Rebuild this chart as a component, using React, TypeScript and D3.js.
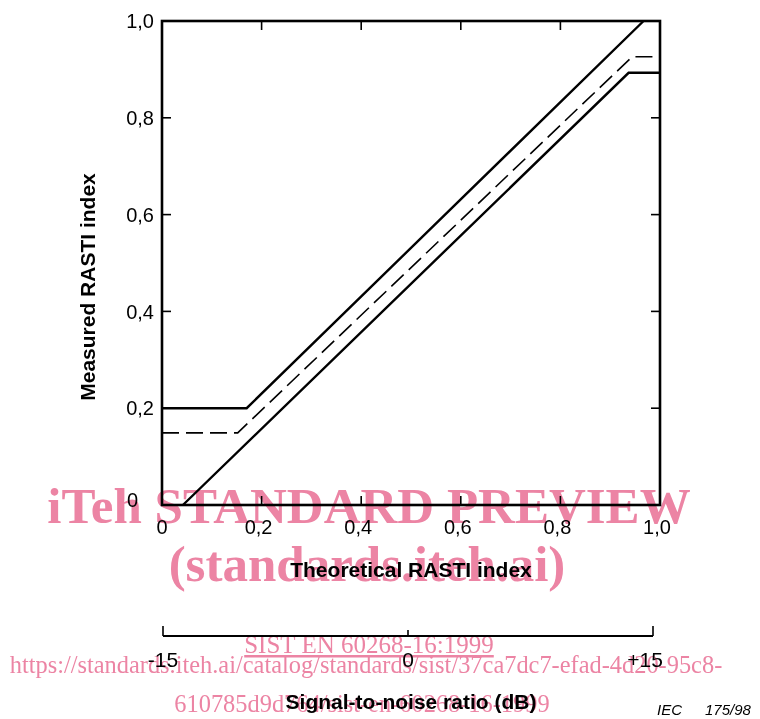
import React from "react";
import * as d3 from "d3";

const xTicks = [0, 0.2, 0.4, 0.6, 0.8, 1.0];
const yTicks = [0, 0.2, 0.4, 0.6, 0.8, 1.0];
const upperLine = [
  { x: 0, y: 0.2 },
  { x: 0.17, y: 0.2 },
  { x: 0.967, y: 1.0 },
];
const dashedLine = [
  { x: 0, y: 0.149 },
  { x: 0.152, y: 0.149 },
  { x: 0.944, y: 0.926 },
  { x: 1.0, y: 0.926 },
];
const lowerLine = [
  { x: 0.042, y: 0 },
  { x: 0.937, y: 0.893 },
  { x: 1.0, y: 0.893 },
];
const snrTicks = [-15, 0, 15];
const snrLabels = ["-15", "0", "+15"];

const W = 760;
const H = 719;
const left = 162;
const right = 660;
const top = 21;
const bottom = 505;

const SANS = "'Liberation Sans', Arial, sans-serif";
const SERIF = "'Liberation Serif', 'Times New Roman', serif";
const PINK = "#ec84a4";

const fmt = (v: number) => (v === 0 ? "0" : v.toFixed(1).replace(".", ","));

export default function App() {
  const x = d3.scaleLinear().domain([0, 1]).range([left, right]);
  const y = d3.scaleLinear().domain([0, 1]).range([bottom, top]);
  const snr = d3.scaleLinear().domain([-15, 15]).range([163, 653]);
  const line = d3
    .line<{ x: number; y: number }>()
    .x((d) => x(d.x))
    .y((d) => y(d.y));
  const tickLen = 9;
  const snrY = 636;

  return (
    <svg
      width={W}
      height={H}
      viewBox={`0 0 ${W} ${H}`}
      style={{ position: "absolute", left: 0, top: 0, background: "#fff" }}
    >
      <rect x={0} y={0} width={W} height={H} fill="#fff" />
      {/* frame */}
      <rect
        x={left}
        y={top}
        width={right - left}
        height={bottom - top}
        fill="none"
        stroke="#000"
        strokeWidth={2.6}
      />
      {/* inward ticks */}
      {xTicks.slice(1, -1).map((t) => (
        <g key={"xt" + t}>
          <line x1={x(t)} x2={x(t)} y1={bottom} y2={bottom - tickLen} stroke="#000" strokeWidth={1.6} />
          <line x1={x(t)} x2={x(t)} y1={top} y2={top + tickLen} stroke="#000" strokeWidth={1.6} />
        </g>
      ))}
      {yTicks.slice(1, -1).map((t) => (
        <g key={"yt" + t}>
          <line x1={left} x2={left + tickLen} y1={y(t)} y2={y(t)} stroke="#000" strokeWidth={1.6} />
          <line x1={right} x2={right - tickLen} y1={y(t)} y2={y(t)} stroke="#000" strokeWidth={1.6} />
        </g>
      ))}
      {/* tick labels */}
      {xTicks.map((t) => (
        <text
          key={"xl" + t}
          x={x(t) - (t === 0 ? 0 : 3)}
          y={534}
          textAnchor="middle"
          fontFamily={SANS}
          fontSize={20}
          fill="#000"
        >
          {fmt(t)}
        </text>
      ))}
      {yTicks.map((t) => (
        <text
          key={"yl" + t}
          x={t === 0 ? 138 : 154}
          y={y(t) + (t === 0 ? -5 : 0)}
          dy="0.36em"
          textAnchor="end"
          fontFamily={SANS}
          fontSize={20}
          fill="#000"
        >
          {fmt(t)}
        </text>
      ))}
      {/* data lines */}
      <path d={line(upperLine) || ""} fill="none" stroke="#000" strokeWidth={2.4} />
      <path d={line(lowerLine) || ""} fill="none" stroke="#000" strokeWidth={2.4} />
      <path
        d={line(dashedLine) || ""}
        fill="none"
        stroke="#000"
        strokeWidth={1.6}
        strokeDasharray="17 7"
      />
      {/* axis titles */}
      <text
        transform={`translate(95,287) rotate(-90)`}
        textAnchor="middle"
        fontFamily={SANS}
        fontWeight="bold"
        fontSize={21}
        fill="#000"
      >
        Measured RASTI index
      </text>
      <text x={411} y={577} textAnchor="middle" fontFamily={SANS} fontWeight="bold" fontSize={21} fill="#000">
        Theoretical RASTI index
      </text>
      {/* secondary SNR axis */}
      <line x1={snr(-15)} x2={snr(15)} y1={snrY} y2={snrY} stroke="#000" strokeWidth={2} />
      {snrTicks.map((t, i) => (
        <line
          key={"st" + t}
          x1={snr(t)}
          x2={snr(t)}
          y1={snrY}
          y2={snrY - (i === 1 ? 6 : 10)}
          stroke="#000"
          strokeWidth={1.6}
        />
      ))}
      {snrTicks.map((t, i) => (
        <text
          key={"sl" + t}
          x={snr(t) - (i === 2 ? 8 : 0)}
          y={667}
          textAnchor="middle"
          fontFamily={SANS}
          fontSize={21}
          fill="#000"
        >
          {snrLabels[i]}
        </text>
      ))}
      <text x={411} y={709} textAnchor="middle" fontFamily={SANS} fontWeight="bold" fontSize={21} fill="#000">
        Signal-to-noise ratio (dB)
      </text>
      <text x={657} y={715} fontFamily={SANS} fontStyle="italic" fontSize={15} fill="#000">
        IEC
      </text>
      <text x={705} y={715} fontFamily={SANS} fontStyle="italic" fontSize={15} fill="#000">
        175/98
      </text>
      {/* watermark */}
      <g style={{ mixBlendMode: "multiply" }} fill={PINK} fontFamily={SERIF} textAnchor="middle">
        <text x={369} y={523} fontSize={51} fontWeight="bold">
          iTeh STANDARD PREVIEW
        </text>
        <text x={367} y={581} fontSize={51} fontWeight="bold">
          (standards.iteh.ai)
        </text>
        <text x={369} y={653} fontSize={25} textDecoration="underline">
          SIST EN 60268-16:1999
        </text>
        <text x={366} y={673} fontSize={24.4}>
          https://standards.iteh.ai/catalog/standards/sist/37ca7dc7-efad-4d20-95c8-
        </text>
        <text x={362} y={712} fontSize={24.4}>
          610785d9d764/sist-en-60268-16-1999
        </text>
      </g>
    </svg>
  );
}
